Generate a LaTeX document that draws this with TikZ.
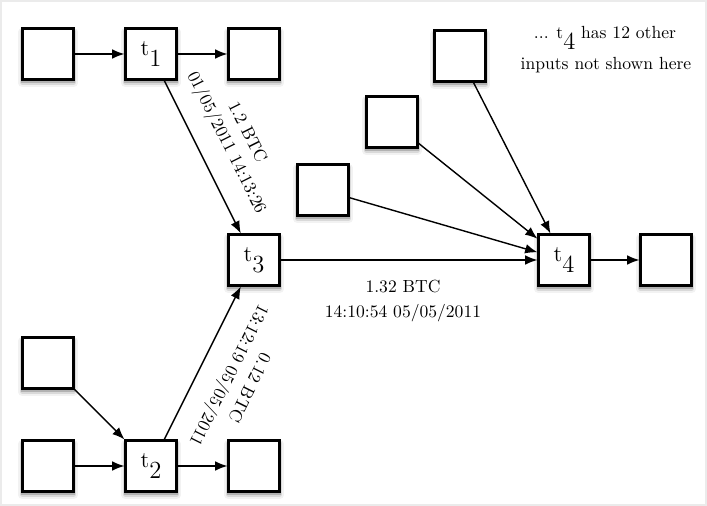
\documentclass[tikz,border=0pt]{standalone}
\usepackage{tikz}
\usetikzlibrary{arrows.meta}
\newcommand{\txn}[1]{t\raisebox{-6pt}{\fontsize{14}{16}\selectfont #1}}

\begin{document}
\begin{tikzpicture}[x=0.02cm, y=-0.02cm, >={Latex[length=7pt, width=5.5pt]},
	soft/.style={
		preaction={draw=black, opacity=0.05, line width=5pt, line join=round, transform canvas={yshift=-2pt}},
		preaction={draw=black, opacity=0.1, line width=3pt, line join=round, transform canvas={yshift=-1.6pt}},
		preaction={draw=black, opacity=0.18, line width=1.6pt, transform canvas={yshift=-1.2pt}}},
	box/.style={rectangle, soft, draw, line width=1.2pt, fill=white, minimum size=1.02cm, inner sep=0pt,
		font=\fontsize{13}{15}\selectfont},
	lbl/.style={inner sep=0pt},
	edge/.style={->, line width=0.8pt}]
	\useasboundingbox (0,0) rectangle (707,506);
	\draw[black!8, line width=1pt] (1,1) rectangle (706,505);
	% Nodes
	\node[box] (1) at (48,54) {};
	\node[box] (t1) at (151,54) {\txn{1}};
	\node[box] (2) at (254,54) {};
	\node[box] (t3) at (254,260) {\txn{3}};
	\node[box] (3) at (48,363) {};
	\node[box] (4) at (48,466) {};
	\node[box] (t2) at (151,466) {\txn{2}};
	\node[box] (5) at (254,466) {};
	\node[box] (6) at (323,190) {};
	\node[box] (7) at (392,122) {};
	\node[box] (8) at (460,56) {};
	\node[box] (t4) at (564,260) {\txn{4}};
	\node[box] (9) at (666,260) {};
	% Edges
	\draw[edge] (1) -- (t1);
	\draw[edge] (t1) -- (2);
	\draw[edge] (t1) -- (t3);
	\draw[edge] (3) -- (t2);
	\draw[edge] (4) -- (t2);
	\draw[edge] (t2) -- (5);
	\draw[edge] (t2) -- (t3);
	\draw[edge] (t3) -- (t4);
	\draw[edge] (6) -- (t4);
	\draw[edge] (7) -- (t4);
	\draw[edge] (8) -- (t4);
	\draw[edge] (t4) -- (9);
	% Labels
	\node[lbl, rotate=-63.4] (a1) at (248,132) {1.2 BTC};
	\node[lbl, rotate=-63.4] (a2) at (226,143) {01/05/2011 14:13:26};
	\node[lbl, rotate=-116.6] (b1) at (250,388) {0.12 BTC};
	\node[lbl, rotate=-116.6] (b2) at (228,375) {13:12:19 05/05/2011};
	\node[lbl, anchor=base] (c1) at (403,293) {1.32 BTC};
	\node[lbl, anchor=base] (c2) at (403,318) {14:10:54 05/05/2011};
	\node[lbl, anchor=base] (n1) at (605,39) {... \txn{4} has 12 other};
	\node[lbl, anchor=base] (n2) at (606,70) {inputs not shown here};
\end{tikzpicture}
\end{document}
